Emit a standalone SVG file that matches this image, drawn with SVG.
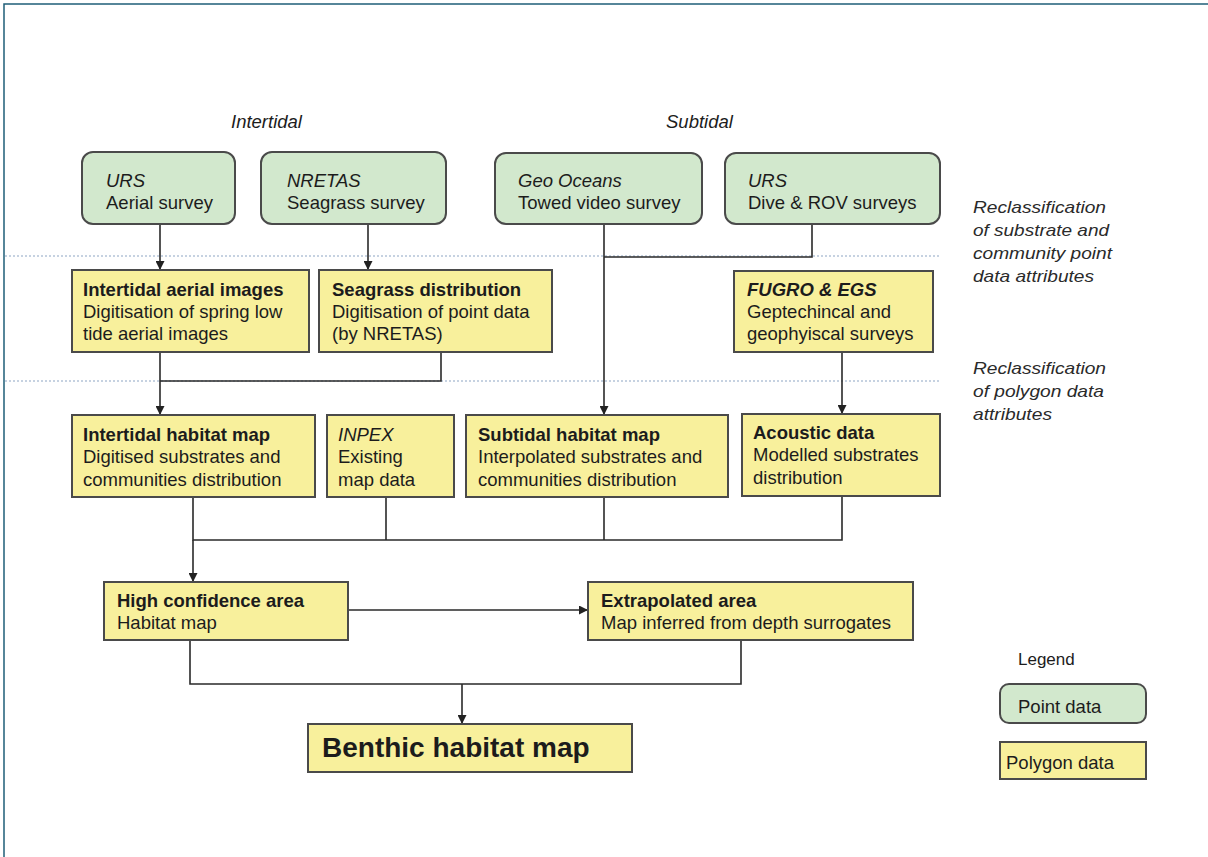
<svg xmlns="http://www.w3.org/2000/svg" width="1208" height="857" viewBox="0 0 1208 857">
  <defs>
    <marker id="arrow" viewBox="0 0 10 10" refX="10" refY="5" markerWidth="9" markerHeight="9" markerUnits="userSpaceOnUse" orient="auto">
      <path d="M0,0 L10,5 L0,10 z" fill="#222"/>
    </marker>
    <style>
      .pt { fill: #d2e8cd; stroke: #4a4a4a; stroke-width: 2; }
      .poly { fill: #f8f09c; stroke: #4a4a4a; stroke-width: 2; }
      .t { font-family: "Liberation Sans", Arial, sans-serif; font-size: 18.5px; fill: #1c1c1c; }
      .b { font-weight: bold; }
      .i { font-style: italic; }
      .small { font-size: 17px; }
      .big { font-size: 28px; }
      .note { font-family: "Liberation Sans", Arial, sans-serif; font-size: 17px; font-style: italic; fill: #2a2a2a; }
      .conn { fill: none; stroke: #2a2a2a; stroke-width: 1.6; }
      .band { stroke: #b4c4d8; stroke-width: 1.5; stroke-dasharray: 2 2; }
    </style>
  </defs>

  <rect width="1208" height="857" fill="#ffffff"/>
  <!-- page frame -->
  <path d="M4,857 V4 H1208" fill="none" stroke="#1f5f78" stroke-width="1.5"/>

  <!-- dotted separation bands -->
  <line class="band" x1="5" y1="256" x2="940" y2="256"/>
  <line class="band" x1="5" y1="381" x2="940" y2="381"/>

  <!-- column headings -->
  <text class="t i" x="231" y="128">Intertidal</text>
  <text class="t i" x="666" y="128">Subtidal</text>

  <!-- side notes -->
  <g id="note-point">
    <text class="note" x="973" y="213" textLength="133" lengthAdjust="spacingAndGlyphs">Reclassification</text>
    <text class="note" x="973" y="236" textLength="136" lengthAdjust="spacingAndGlyphs">of substrate and</text>
    <text class="note" x="973" y="259" textLength="139" lengthAdjust="spacingAndGlyphs">community point</text>
    <text class="note" x="973" y="282" textLength="121" lengthAdjust="spacingAndGlyphs">data attributes</text>
  </g>
  <g id="note-polygon">
    <text class="note" x="973" y="374" textLength="133" lengthAdjust="spacingAndGlyphs">Reclassification</text>
    <text class="note" x="973" y="397" textLength="131" lengthAdjust="spacingAndGlyphs">of polygon data</text>
    <text class="note" x="973" y="420" textLength="79" lengthAdjust="spacingAndGlyphs">attributes</text>
  </g>

  <!-- connectors -->
  <g id="connectors">
    <path class="conn" d="M160,224 V270" marker-end="url(#arrow)"/>
    <path class="conn" d="M368,224 V270" marker-end="url(#arrow)"/>
    <path class="conn" d="M441,352 V381 H160"/>
    <path class="conn" d="M160,352 V415" marker-end="url(#arrow)"/>
    <path class="conn" d="M812,224 V257 H604"/>
    <path class="conn" d="M604,224 V415" marker-end="url(#arrow)"/>
    <path class="conn" d="M842,352 V414" marker-end="url(#arrow)"/>
    <path class="conn" d="M193,497 V540 H842 V496"/>
    <path class="conn" d="M386,497 V540"/>
    <path class="conn" d="M604,497 V540"/>
    <path class="conn" d="M193,540 V582" marker-end="url(#arrow)"/>
    <path class="conn" d="M348,610 H588" marker-end="url(#arrow)"/>
    <path class="conn" d="M190,640 V684 H741 V640"/>
    <path class="conn" d="M462,684 V724" marker-end="url(#arrow)"/>
  </g>

  <!-- point data sources -->
  <g id="urs-aerial">
    <rect class="pt" x="82" y="152" width="153" height="72" rx="11"/>
    <text class="t i" x="106" y="187">URS</text>
    <text class="t" x="106" y="209">Aerial survey</text>
  </g>
  <g id="nretas-seagrass">
    <rect class="pt" x="261" y="152" width="185" height="72" rx="11"/>
    <text class="t i" x="287" y="187">NRETAS</text>
    <text class="t" x="287" y="209">Seagrass survey</text>
  </g>
  <g id="geo-oceans">
    <rect class="pt" x="495" y="153" width="207" height="71" rx="11"/>
    <text class="t i" x="518" y="187">Geo Oceans</text>
    <text class="t" x="518" y="209">Towed video survey</text>
  </g>
  <g id="urs-dive">
    <rect class="pt" x="725" y="153" width="215" height="71" rx="11"/>
    <text class="t i" x="748" y="187">URS</text>
    <text class="t" x="748" y="209">Dive &amp; ROV surveys</text>
  </g>

  <!-- polygon data, second row -->
  <g id="intertidal-aerial">
    <rect class="poly" x="72" y="270" width="237" height="82"/>
    <text class="t b" x="83" y="296">Intertidal aerial images</text>
    <text class="t" x="83" y="318">Digitisation of spring low</text>
    <text class="t" x="83" y="340">tide aerial images</text>
  </g>
  <g id="seagrass-distribution">
    <rect class="poly" x="319" y="270" width="233" height="82"/>
    <text class="t b" x="332" y="296">Seagrass distribution</text>
    <text class="t" x="332" y="318">Digitisation of point data</text>
    <text class="t" x="332" y="340">(by NRETAS)</text>
  </g>
  <g id="fugro-egs">
    <rect class="poly" x="734" y="271" width="199" height="81"/>
    <text class="t b i" x="747" y="296">FUGRO &amp; EGS</text>
    <text class="t" x="747" y="318">Geptechincal and</text>
    <text class="t" x="747" y="340">geophyiscal surveys</text>
  </g>

  <!-- third row -->
  <g id="intertidal-habitat">
    <rect class="poly" x="72" y="415" width="243" height="82"/>
    <text class="t b" x="83" y="441">Intertidal habitat map</text>
    <text class="t" x="83" y="463">Digitised substrates and</text>
    <text class="t" x="83" y="486">communities distribution</text>
  </g>
  <g id="inpex">
    <rect class="poly" x="327" y="415" width="127" height="82"/>
    <text class="t i" x="338" y="441">INPEX</text>
    <text class="t" x="338" y="463">Existing</text>
    <text class="t" x="338" y="486">map data</text>
  </g>
  <g id="subtidal-habitat">
    <rect class="poly" x="466" y="415" width="262" height="82"/>
    <text class="t b" x="478" y="441">Subtidal habitat map</text>
    <text class="t" x="478" y="463">Interpolated substrates and</text>
    <text class="t" x="478" y="486">communities distribution</text>
  </g>
  <g id="acoustic">
    <rect class="poly" x="742" y="414" width="198" height="82"/>
    <text class="t b" x="753" y="439">Acoustic data</text>
    <text class="t" x="753" y="461">Modelled substrates</text>
    <text class="t" x="753" y="484">distribution</text>
  </g>

  <!-- fourth row -->
  <g id="high-confidence">
    <rect class="poly" x="104" y="582" width="244" height="58"/>
    <text class="t b" x="117" y="607">High confidence area</text>
    <text class="t" x="117" y="629">Habitat map</text>
  </g>
  <g id="extrapolated">
    <rect class="poly" x="588" y="582" width="325" height="58"/>
    <text class="t b" x="601" y="607">Extrapolated area</text>
    <text class="t" x="601" y="629">Map inferred from depth surrogates</text>
  </g>

  <!-- output -->
  <g id="benthic-map">
    <rect class="poly" x="308" y="724" width="324" height="48"/>
    <text class="t b big" x="322" y="757">Benthic habitat map</text>
  </g>

  <!-- legend -->
  <g id="legend">
    <text class="t small" x="1018" y="665">Legend</text>
    <rect class="pt" x="1000" y="684" width="146" height="39" rx="9"/>
    <text class="t" x="1018" y="713">Point data</text>
    <rect class="poly" x="1000" y="742" width="146" height="37"/>
    <text class="t" x="1006" y="769">Polygon data</text>
  </g>
</svg>
